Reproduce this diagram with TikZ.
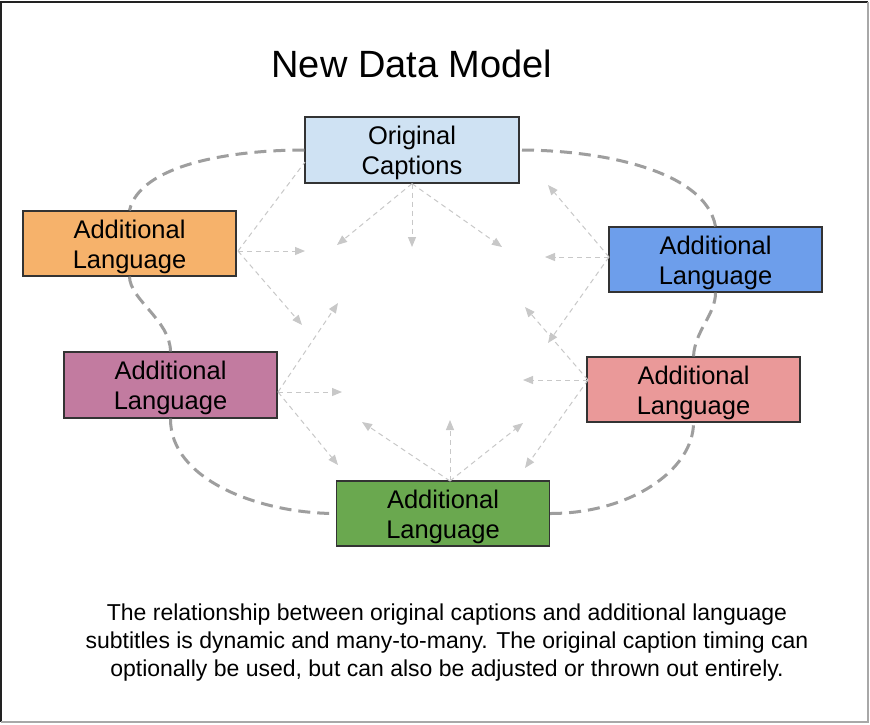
\documentclass[tikz,border=0pt]{standalone}
\usepackage{fontspec}
\setmainfont{Liberation Sans}
\usetikzlibrary{arrows.meta}
\definecolor{ocfill}{HTML}{CFE2F3}
\definecolor{orfill}{HTML}{F6B26B}
\definecolor{blfill}{HTML}{6D9EEB}
\definecolor{pufill}{HTML}{C27BA0}
\definecolor{pifill}{HTML}{EA9999}
\definecolor{grfill}{HTML}{6AA84F}
\definecolor{boxline}{HTML}{333333}
\definecolor{ringgray}{HTML}{9E9E9E}
\definecolor{arrgray}{HTML}{C8C8C8}
\definecolor{framedark}{HTML}{222222}
\definecolor{framelight}{HTML}{A8A8A8}
\newcommand{\upstrut}{\rule{0pt}{25pt}}
\tikzset{
  langbox/.style={draw=boxline, line width=1.3pt, minimum width=213pt, minimum height=65pt,
    inner sep=0pt, align=center, font=\fontsize{25.5}{30}\selectfont},
  ring/.style={draw=ringgray, line width=3pt, dash pattern=on 12pt off 7pt},
  relarrow/.style={draw=arrgray, line width=1pt, dash pattern=on 5pt off 4pt,
    -{Triangle[length=10pt,width=8pt]}},
  relline/.style={draw=arrgray, line width=1pt, dash pattern=on 5pt off 4pt},
}
\begin{document}
\begin{tikzpicture}[x=1pt,y=-1pt]
\useasboundingbox (0,0) rectangle (870,724);
\fill[white] (0,0) rectangle (870,724);
% frame
\draw[framedark, line width=1.5pt] (1,722) -- (1,2) -- (868,2);
\draw[framelight, line width=1.5pt] (868,2) -- (868,722) -- (1,722);

% title
\node[anchor=base, font=\fontsize{38}{44}\selectfont, inner sep=0pt] (title) at (412,77) {New Data Model};

% boxes
\node[langbox, fill=ocfill, minimum width=214pt, minimum height=66pt] (oc) at (412,150) {\upstrut Original\\Captions};
\node[langbox, fill=orfill] (orange) at (129.5,243.5) {\upstrut Additional\\Language};
\node[langbox, fill=blfill] (blue) at (715.5,259.5) {\upstrut Additional\\Language};
\node[langbox, fill=pufill, minimum height=66pt] (purple) at (170.5,385) {\upstrut Additional\\Language};
\node[langbox, fill=pifill] (pink) at (693.5,389.5) {\upstrut Additional\\Language};
\node[langbox, fill=grfill] (green) at (443,513.5) {\upstrut Additional\\Language};

% ring
\draw[ring] (oc.west) .. controls (230,150) and (140,165) .. (orange.north);
\draw[ring] (orange.south) .. controls (130,300) and (170,320) .. (purple.north);
\draw[ring] (purple.south) .. controls (170,480) and (260,513.5) .. (green.west);
\draw[ring] (green.east) .. controls (630,513.5) and (693.5,470) .. (pink.south);
\draw[ring] (pink.north) .. controls (695,330) and (715.5,315) .. (blue.south);
\draw[ring] (blue.north) .. controls (705,170) and (600,150) .. (oc.east);

% start points
\coordinate (sOC) at (oc.south);
\coordinate (sOr) at (238,251);
\coordinate (sBl) at (609,257);
\coordinate (sPu) at (278,392);
\coordinate (sPi) at (588,380);
\coordinate (sGr) at (450,481);
\coordinate (ocLeft) at (305,162);
% arrow tips
\coordinate (t1) at (337,245);
\coordinate (t2) at (412,247);
\coordinate (t3) at (502,247);
\coordinate (t4) at (305,251);
\coordinate (t5) at (302,325);
\coordinate (t6) at (545,257);
\coordinate (t7) at (548,185);
\coordinate (t8) at (548,343);
\coordinate (t9) at (342,392);
\coordinate (t10) at (338,303);
\coordinate (t11) at (338,465);
\coordinate (t12) at (523,380);
\coordinate (t13) at (525,307);
\coordinate (t14) at (525,468);
\coordinate (t15) at (362,422);
\coordinate (t16) at (450,420);
\coordinate (t17) at (523,423);

\draw[relarrow] (sOC) -- (t1);
\draw[relarrow] (sOC) -- (t2);
\draw[relarrow] (sOC) -- (t3);
\draw[relline] (sOr) -- (ocLeft);
\draw[relarrow] (sOr) -- (t4);
\draw[relarrow] (sOr) -- (t5);
\draw[relarrow] (sBl) -- (t6);
\draw[relarrow] (sBl) -- (t7);
\draw[relarrow] (sBl) -- (t8);
\draw[relarrow] (sPu) -- (t9);
\draw[relarrow] (sPu) -- (t10);
\draw[relarrow] (sPu) -- (t11);
\draw[relarrow] (sPi) -- (t12);
\draw[relarrow] (sPi) -- (t13);
\draw[relarrow] (sPi) -- (t14);
\draw[relarrow] (sGr) -- (t15);
\draw[relarrow] (sGr) -- (t16);
\draw[relarrow] (sGr) -- (t17);

% description
\node[align=center, font=\fontsize{23}{28}\selectfont, inner sep=0pt] (desc) at (447,643)
  {The relationship between original captions and additional language\\
   subtitles is dynamic and many-to-many. The original caption timing can\\
   optionally be used, but can also be adjusted or thrown out entirely.};
\end{tikzpicture}
\end{document}
